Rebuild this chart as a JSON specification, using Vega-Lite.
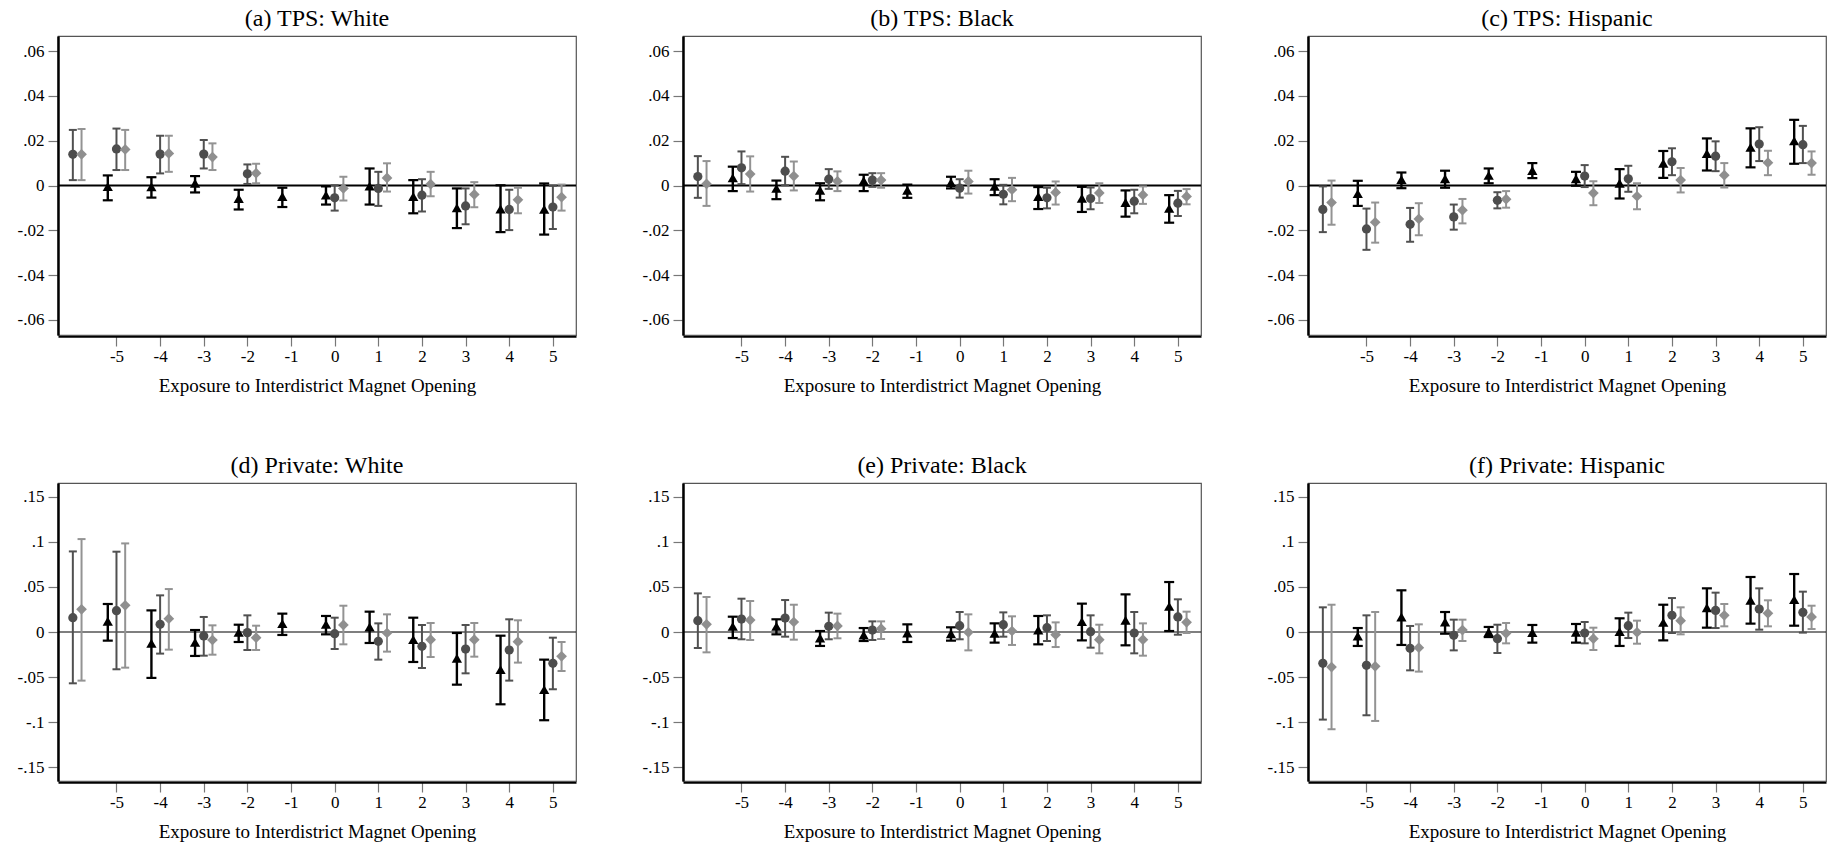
{
  "$schema": "https://vega.github.io/schema/vega-lite/v6.json",
  "background": "white",
  "padding": {"left": 15, "top": 7, "right": 1, "bottom": 1},
  "config": {
    "font": "Liberation Serif",
    "view": {"stroke": "#555", "strokeWidth": 1.2},
    "axis": {"grid": false, "labelFont": "Liberation Serif", "titleFont": "Liberation Serif", "labelColor": "#000", "titleColor": "#000", "titleFontWeight": "normal", "labelFontSize": 17, "titleFontSize": 19, "tickSize": 10, "tickColor": "#777", "tickWidth": 1.2, "labelPadding": 4, "titlePadding": 12, "domainColor": "#000", "domainWidth": 2.5},
    "axisX": {"labelPadding": 2},
    "axisY": {"minExtent": 42, "maxExtent": 42},
    "header": {"labelFont": "Liberation Serif", "labelColor": "#000", "labelFontSize": 24, "labelPadding": 4}
  },
  "data": {"values": [
    {"panel":"(a) TPS: White","group":"TPS","t":-6,"series":"Model 2","est":0.0139,"lo":0.0024,"hi":0.0248},
    {"panel":"(a) TPS: White","group":"TPS","t":-6,"series":"Model 3","est":0.0139,"lo":0.0024,"hi":0.0252},
    {"panel":"(a) TPS: White","group":"TPS","t":-5,"series":"Model 1","est":-0.0005,"lo":-0.0066,"hi":0.0045},
    {"panel":"(a) TPS: White","group":"TPS","t":-5,"series":"Model 2","est":0.0163,"lo":0.0069,"hi":0.0254},
    {"panel":"(a) TPS: White","group":"TPS","t":-5,"series":"Model 3","est":0.0161,"lo":0.0069,"hi":0.0248},
    {"panel":"(a) TPS: White","group":"TPS","t":-4,"series":"Model 1","est":-0.0006,"lo":-0.0054,"hi":0.0037},
    {"panel":"(a) TPS: White","group":"TPS","t":-4,"series":"Model 2","est":0.014,"lo":0.0054,"hi":0.0222},
    {"panel":"(a) TPS: White","group":"TPS","t":-4,"series":"Model 3","est":0.0143,"lo":0.0061,"hi":0.0222},
    {"panel":"(a) TPS: White","group":"TPS","t":-3,"series":"Model 1","est":0.001,"lo":-0.0031,"hi":0.0042},
    {"panel":"(a) TPS: White","group":"TPS","t":-3,"series":"Model 2","est":0.014,"lo":0.0076,"hi":0.0203},
    {"panel":"(a) TPS: White","group":"TPS","t":-3,"series":"Model 3","est":0.0127,"lo":0.0069,"hi":0.0188},
    {"panel":"(a) TPS: White","group":"TPS","t":-2,"series":"Model 1","est":-0.0058,"lo":-0.0107,"hi":-0.0019},
    {"panel":"(a) TPS: White","group":"TPS","t":-2,"series":"Model 2","est":0.0052,"lo":0.0007,"hi":0.0094},
    {"panel":"(a) TPS: White","group":"TPS","t":-2,"series":"Model 3","est":0.0055,"lo":0.001,"hi":0.0097},
    {"panel":"(a) TPS: White","group":"TPS","t":-1,"series":"Model 1","est":-0.0049,"lo":-0.0096,"hi":-0.001},
    {"panel":"(a) TPS: White","group":"TPS","t":0,"series":"Model 1","est":-0.0043,"lo":-0.0085,"hi":-0.0004},
    {"panel":"(a) TPS: White","group":"TPS","t":0,"series":"Model 2","est":-0.0055,"lo":-0.0112,"hi":0.0001},
    {"panel":"(a) TPS: White","group":"TPS","t":0,"series":"Model 3","est":-0.0013,"lo":-0.0067,"hi":0.0039},
    {"panel":"(a) TPS: White","group":"TPS","t":1,"series":"Model 1","est":-0.0003,"lo":-0.0085,"hi":0.0076},
    {"panel":"(a) TPS: White","group":"TPS","t":1,"series":"Model 2","est":-0.0013,"lo":-0.0091,"hi":0.0061},
    {"panel":"(a) TPS: White","group":"TPS","t":1,"series":"Model 3","est":0.0034,"lo":-0.0027,"hi":0.0099},
    {"panel":"(a) TPS: White","group":"TPS","t":2,"series":"Model 1","est":-0.0049,"lo":-0.0124,"hi":0.0024},
    {"panel":"(a) TPS: White","group":"TPS","t":2,"series":"Model 2","est":-0.0043,"lo":-0.0116,"hi":0.0028},
    {"panel":"(a) TPS: White","group":"TPS","t":2,"series":"Model 3","est":0.0006,"lo":-0.0048,"hi":0.0061},
    {"panel":"(a) TPS: White","group":"TPS","t":3,"series":"Model 1","est":-0.01,"lo":-0.019,"hi":-0.0013},
    {"panel":"(a) TPS: White","group":"TPS","t":3,"series":"Model 2","est":-0.0091,"lo":-0.0173,"hi":-0.0013},
    {"panel":"(a) TPS: White","group":"TPS","t":3,"series":"Model 3","est":-0.004,"lo":-0.0097,"hi":0.0015},
    {"panel":"(a) TPS: White","group":"TPS","t":4,"series":"Model 1","est":-0.0105,"lo":-0.0208,"hi":0.0001},
    {"panel":"(a) TPS: White","group":"TPS","t":4,"series":"Model 2","est":-0.0107,"lo":-0.0199,"hi":-0.0019},
    {"panel":"(a) TPS: White","group":"TPS","t":4,"series":"Model 3","est":-0.0064,"lo":-0.0124,"hi":-0.001},
    {"panel":"(a) TPS: White","group":"TPS","t":5,"series":"Model 1","est":-0.0106,"lo":-0.0219,"hi":0.0009},
    {"panel":"(a) TPS: White","group":"TPS","t":5,"series":"Model 2","est":-0.0096,"lo":-0.0194,"hi":-0.0001},
    {"panel":"(a) TPS: White","group":"TPS","t":5,"series":"Model 3","est":-0.0052,"lo":-0.0112,"hi":0.0004},

    {"panel":"(b) TPS: Black","group":"TPS","t":-6,"series":"Model 2","est":0.004,"lo":-0.0055,"hi":0.0131},
    {"panel":"(b) TPS: Black","group":"TPS","t":-6,"series":"Model 3","est":0.0007,"lo":-0.0091,"hi":0.0109},
    {"panel":"(b) TPS: Black","group":"TPS","t":-5,"series":"Model 1","est":0.0034,"lo":-0.0025,"hi":0.0084},
    {"panel":"(b) TPS: Black","group":"TPS","t":-5,"series":"Model 2","est":0.0079,"lo":0.0006,"hi":0.0152},
    {"panel":"(b) TPS: Black","group":"TPS","t":-5,"series":"Model 3","est":0.0051,"lo":-0.0027,"hi":0.013},
    {"panel":"(b) TPS: Black","group":"TPS","t":-4,"series":"Model 1","est":-0.0013,"lo":-0.0061,"hi":0.0022},
    {"panel":"(b) TPS: Black","group":"TPS","t":-4,"series":"Model 2","est":0.0064,"lo":0.0001,"hi":0.0128},
    {"panel":"(b) TPS: Black","group":"TPS","t":-4,"series":"Model 3","est":0.0042,"lo":-0.0022,"hi":0.0107},
    {"panel":"(b) TPS: Black","group":"TPS","t":-3,"series":"Model 1","est":-0.0021,"lo":-0.0066,"hi":0.001},
    {"panel":"(b) TPS: Black","group":"TPS","t":-3,"series":"Model 2","est":0.0028,"lo":-0.0015,"hi":0.0073},
    {"panel":"(b) TPS: Black","group":"TPS","t":-3,"series":"Model 3","est":0.0019,"lo":-0.0025,"hi":0.0063},
    {"panel":"(b) TPS: Black","group":"TPS","t":-2,"series":"Model 1","est":0.0021,"lo":-0.0025,"hi":0.0048},
    {"panel":"(b) TPS: Black","group":"TPS","t":-2,"series":"Model 2","est":0.0024,"lo":-0.0006,"hi":0.0055},
    {"panel":"(b) TPS: Black","group":"TPS","t":-2,"series":"Model 3","est":0.0024,"lo":-0.001,"hi":0.0055},
    {"panel":"(b) TPS: Black","group":"TPS","t":-1,"series":"Model 1","est":-0.0021,"lo":-0.0055,"hi":0.0004},
    {"panel":"(b) TPS: Black","group":"TPS","t":0,"series":"Model 1","est":0.0013,"lo":-0.0013,"hi":0.0039},
    {"panel":"(b) TPS: Black","group":"TPS","t":0,"series":"Model 2","est":-0.0012,"lo":-0.0054,"hi":0.0028},
    {"panel":"(b) TPS: Black","group":"TPS","t":0,"series":"Model 3","est":0.0018,"lo":-0.0036,"hi":0.0066},
    {"panel":"(b) TPS: Black","group":"TPS","t":1,"series":"Model 1","est":-0.0004,"lo":-0.0043,"hi":0.0028},
    {"panel":"(b) TPS: Black","group":"TPS","t":1,"series":"Model 2","est":-0.0039,"lo":-0.0084,"hi":0.0003},
    {"panel":"(b) TPS: Black","group":"TPS","t":1,"series":"Model 3","est":-0.0019,"lo":-0.007,"hi":0.0034},
    {"panel":"(b) TPS: Black","group":"TPS","t":2,"series":"Model 1","est":-0.0049,"lo":-0.0105,"hi":-0.0007},
    {"panel":"(b) TPS: Black","group":"TPS","t":2,"series":"Model 2","est":-0.0055,"lo":-0.0102,"hi":-0.001},
    {"panel":"(b) TPS: Black","group":"TPS","t":2,"series":"Model 3","est":-0.0031,"lo":-0.0085,"hi":0.0018},
    {"panel":"(b) TPS: Black","group":"TPS","t":3,"series":"Model 1","est":-0.0057,"lo":-0.0118,"hi":-0.0006},
    {"panel":"(b) TPS: Black","group":"TPS","t":3,"series":"Model 2","est":-0.0058,"lo":-0.0106,"hi":-0.0009},
    {"panel":"(b) TPS: Black","group":"TPS","t":3,"series":"Model 3","est":-0.0033,"lo":-0.0078,"hi":0.001},
    {"panel":"(b) TPS: Black","group":"TPS","t":4,"series":"Model 1","est":-0.0076,"lo":-0.0139,"hi":-0.0022},
    {"panel":"(b) TPS: Black","group":"TPS","t":4,"series":"Model 2","est":-0.007,"lo":-0.0124,"hi":-0.0019},
    {"panel":"(b) TPS: Black","group":"TPS","t":4,"series":"Model 3","est":-0.0042,"lo":-0.0082,"hi":-0.0004},
    {"panel":"(b) TPS: Black","group":"TPS","t":5,"series":"Model 1","est":-0.0102,"lo":-0.0166,"hi":-0.0043},
    {"panel":"(b) TPS: Black","group":"TPS","t":5,"series":"Model 2","est":-0.0079,"lo":-0.0136,"hi":-0.0024},
    {"panel":"(b) TPS: Black","group":"TPS","t":5,"series":"Model 3","est":-0.0049,"lo":-0.0084,"hi":-0.0016},

    {"panel":"(c) TPS: Hispanic","group":"TPS","t":-6,"series":"Model 2","est":-0.0107,"lo":-0.0208,"hi":-0.0004},
    {"panel":"(c) TPS: Hispanic","group":"TPS","t":-6,"series":"Model 3","est":-0.0076,"lo":-0.0175,"hi":0.0022},
    {"panel":"(c) TPS: Hispanic","group":"TPS","t":-5,"series":"Model 1","est":-0.0036,"lo":-0.0091,"hi":0.0021},
    {"panel":"(c) TPS: Hispanic","group":"TPS","t":-5,"series":"Model 2","est":-0.0194,"lo":-0.0287,"hi":-0.0103},
    {"panel":"(c) TPS: Hispanic","group":"TPS","t":-5,"series":"Model 3","est":-0.0164,"lo":-0.0255,"hi":-0.0076},
    {"panel":"(c) TPS: Hispanic","group":"TPS","t":-4,"series":"Model 1","est":0.0027,"lo":-0.0012,"hi":0.0058},
    {"panel":"(c) TPS: Hispanic","group":"TPS","t":-4,"series":"Model 2","est":-0.0173,"lo":-0.0251,"hi":-0.01},
    {"panel":"(c) TPS: Hispanic","group":"TPS","t":-4,"series":"Model 3","est":-0.0149,"lo":-0.0222,"hi":-0.0079},
    {"panel":"(c) TPS: Hispanic","group":"TPS","t":-3,"series":"Model 1","est":0.003,"lo":-0.001,"hi":0.0066},
    {"panel":"(c) TPS: Hispanic","group":"TPS","t":-3,"series":"Model 2","est":-0.014,"lo":-0.0197,"hi":-0.0085},
    {"panel":"(c) TPS: Hispanic","group":"TPS","t":-3,"series":"Model 3","est":-0.011,"lo":-0.0169,"hi":-0.006},
    {"panel":"(c) TPS: Hispanic","group":"TPS","t":-2,"series":"Model 1","est":0.0045,"lo":0.001,"hi":0.0076},
    {"panel":"(c) TPS: Hispanic","group":"TPS","t":-2,"series":"Model 2","est":-0.0066,"lo":-0.0102,"hi":-0.003},
    {"panel":"(c) TPS: Hispanic","group":"TPS","t":-2,"series":"Model 3","est":-0.0061,"lo":-0.0099,"hi":-0.0025},
    {"panel":"(c) TPS: Hispanic","group":"TPS","t":-1,"series":"Model 1","est":0.0067,"lo":0.0033,"hi":0.01},
    {"panel":"(c) TPS: Hispanic","group":"TPS","t":0,"series":"Model 1","est":0.003,"lo":-0.0001,"hi":0.0061},
    {"panel":"(c) TPS: Hispanic","group":"TPS","t":0,"series":"Model 2","est":0.0042,"lo":-0.0007,"hi":0.0091},
    {"panel":"(c) TPS: Hispanic","group":"TPS","t":0,"series":"Model 3","est":-0.0034,"lo":-0.0088,"hi":0.0019},
    {"panel":"(c) TPS: Hispanic","group":"TPS","t":1,"series":"Model 1","est":0.001,"lo":-0.0058,"hi":0.0073},
    {"panel":"(c) TPS: Hispanic","group":"TPS","t":1,"series":"Model 2","est":0.003,"lo":-0.0028,"hi":0.0088},
    {"panel":"(c) TPS: Hispanic","group":"TPS","t":1,"series":"Model 3","est":-0.0048,"lo":-0.0106,"hi":0.001},
    {"panel":"(c) TPS: Hispanic","group":"TPS","t":2,"series":"Model 1","est":0.0099,"lo":0.0034,"hi":0.0154},
    {"panel":"(c) TPS: Hispanic","group":"TPS","t":2,"series":"Model 2","est":0.0106,"lo":0.0046,"hi":0.0166},
    {"panel":"(c) TPS: Hispanic","group":"TPS","t":2,"series":"Model 3","est":0.0024,"lo":-0.0031,"hi":0.0078},
    {"panel":"(c) TPS: Hispanic","group":"TPS","t":3,"series":"Model 1","est":0.0143,"lo":0.0067,"hi":0.021},
    {"panel":"(c) TPS: Hispanic","group":"TPS","t":3,"series":"Model 2","est":0.0131,"lo":0.0064,"hi":0.0197},
    {"panel":"(c) TPS: Hispanic","group":"TPS","t":3,"series":"Model 3","est":0.0046,"lo":-0.0009,"hi":0.01},
    {"panel":"(c) TPS: Hispanic","group":"TPS","t":4,"series":"Model 1","est":0.017,"lo":0.0081,"hi":0.0255},
    {"panel":"(c) TPS: Hispanic","group":"TPS","t":4,"series":"Model 2","est":0.0185,"lo":0.0109,"hi":0.026},
    {"panel":"(c) TPS: Hispanic","group":"TPS","t":4,"series":"Model 3","est":0.0102,"lo":0.0046,"hi":0.0155},
    {"panel":"(c) TPS: Hispanic","group":"TPS","t":5,"series":"Model 1","est":0.0199,"lo":0.0097,"hi":0.0293},
    {"panel":"(c) TPS: Hispanic","group":"TPS","t":5,"series":"Model 2","est":0.0182,"lo":0.01,"hi":0.0266},
    {"panel":"(c) TPS: Hispanic","group":"TPS","t":5,"series":"Model 3","est":0.01,"lo":0.0048,"hi":0.0152},

    {"panel":"(d) Private: White","group":"Private","t":-6,"series":"Model 2","est":0.0159,"lo":-0.057,"hi":0.0895},
    {"panel":"(d) Private: White","group":"Private","t":-6,"series":"Model 3","est":0.0252,"lo":-0.054,"hi":0.1032},
    {"panel":"(d) Private: White","group":"Private","t":-5,"series":"Model 1","est":0.012,"lo":-0.0096,"hi":0.0311},
    {"panel":"(d) Private: White","group":"Private","t":-5,"series":"Model 2","est":0.0237,"lo":-0.0414,"hi":0.0892},
    {"panel":"(d) Private: White","group":"Private","t":-5,"series":"Model 3","est":0.0296,"lo":-0.0396,"hi":0.0984},
    {"panel":"(d) Private: White","group":"Private","t":-4,"series":"Model 1","est":-0.0125,"lo":-0.051,"hi":0.024},
    {"panel":"(d) Private: White","group":"Private","t":-4,"series":"Model 2","est":0.0085,"lo":-0.024,"hi":0.0407},
    {"panel":"(d) Private: White","group":"Private","t":-4,"series":"Model 3","est":0.0148,"lo":-0.0196,"hi":0.0477},
    {"panel":"(d) Private: White","group":"Private","t":-3,"series":"Model 1","est":-0.0115,"lo":-0.0266,"hi":0.0022},
    {"panel":"(d) Private: White","group":"Private","t":-3,"series":"Model 2","est":-0.0044,"lo":-0.0263,"hi":0.0167},
    {"panel":"(d) Private: White","group":"Private","t":-3,"series":"Model 3","est":-0.0089,"lo":-0.0252,"hi":0.0074},
    {"panel":"(d) Private: White","group":"Private","t":-2,"series":"Model 1","est":-0.0004,"lo":-0.0111,"hi":0.0081},
    {"panel":"(d) Private: White","group":"Private","t":-2,"series":"Model 2","est":-0.0007,"lo":-0.02,"hi":0.0185},
    {"panel":"(d) Private: White","group":"Private","t":-2,"series":"Model 3","est":-0.0063,"lo":-0.02,"hi":0.007},
    {"panel":"(d) Private: White","group":"Private","t":-1,"series":"Model 1","est":0.0093,"lo":-0.0033,"hi":0.0204},
    {"panel":"(d) Private: White","group":"Private","t":0,"series":"Model 1","est":0.0085,"lo":-0.0026,"hi":0.0178},
    {"panel":"(d) Private: White","group":"Private","t":0,"series":"Model 2","est":-0.0019,"lo":-0.0189,"hi":0.0159},
    {"panel":"(d) Private: White","group":"Private","t":0,"series":"Model 3","est":0.0078,"lo":-0.0137,"hi":0.0292},
    {"panel":"(d) Private: White","group":"Private","t":1,"series":"Model 1","est":0.0056,"lo":-0.0122,"hi":0.0226},
    {"panel":"(d) Private: White","group":"Private","t":1,"series":"Model 2","est":-0.0104,"lo":-0.0307,"hi":0.0096},
    {"panel":"(d) Private: White","group":"Private","t":1,"series":"Model 3","est":-0.0011,"lo":-0.0218,"hi":0.0196},
    {"panel":"(d) Private: White","group":"Private","t":2,"series":"Model 1","est":-0.0085,"lo":-0.0333,"hi":0.0159},
    {"panel":"(d) Private: White","group":"Private","t":2,"series":"Model 2","est":-0.0159,"lo":-0.04,"hi":0.0078},
    {"panel":"(d) Private: White","group":"Private","t":2,"series":"Model 3","est":-0.0085,"lo":-0.0278,"hi":0.01},
    {"panel":"(d) Private: White","group":"Private","t":3,"series":"Model 1","est":-0.0292,"lo":-0.0585,"hi":-0.0011},
    {"panel":"(d) Private: White","group":"Private","t":3,"series":"Model 2","est":-0.0189,"lo":-0.0459,"hi":0.0078},
    {"panel":"(d) Private: White","group":"Private","t":3,"series":"Model 3","est":-0.0085,"lo":-0.0274,"hi":0.01},
    {"panel":"(d) Private: White","group":"Private","t":4,"series":"Model 1","est":-0.0418,"lo":-0.0803,"hi":-0.0041},
    {"panel":"(d) Private: White","group":"Private","t":4,"series":"Model 2","est":-0.02,"lo":-0.054,"hi":0.0141},
    {"panel":"(d) Private: White","group":"Private","t":4,"series":"Model 3","est":-0.0107,"lo":-0.034,"hi":0.013},
    {"panel":"(d) Private: White","group":"Private","t":5,"series":"Model 1","est":-0.064,"lo":-0.098,"hi":-0.0307},
    {"panel":"(d) Private: White","group":"Private","t":5,"series":"Model 2","est":-0.0348,"lo":-0.0636,"hi":-0.0063},
    {"panel":"(d) Private: White","group":"Private","t":5,"series":"Model 3","est":-0.027,"lo":-0.0433,"hi":-0.0111},

    {"panel":"(e) Private: Black","group":"Private","t":-6,"series":"Model 2","est":0.0126,"lo":-0.0178,"hi":0.0429},
    {"panel":"(e) Private: Black","group":"Private","t":-6,"series":"Model 3","est":0.0085,"lo":-0.0226,"hi":0.0389},
    {"panel":"(e) Private: Black","group":"Private","t":-5,"series":"Model 1","est":0.0063,"lo":-0.0067,"hi":0.017},
    {"panel":"(e) Private: Black","group":"Private","t":-5,"series":"Model 2","est":0.0144,"lo":-0.0081,"hi":0.037},
    {"panel":"(e) Private: Black","group":"Private","t":-5,"series":"Model 3","est":0.0133,"lo":-0.0089,"hi":0.0344},
    {"panel":"(e) Private: Black","group":"Private","t":-4,"series":"Model 1","est":0.0063,"lo":-0.0026,"hi":0.0141},
    {"panel":"(e) Private: Black","group":"Private","t":-4,"series":"Model 2","est":0.0155,"lo":-0.0052,"hi":0.0355},
    {"panel":"(e) Private: Black","group":"Private","t":-4,"series":"Model 3","est":0.0111,"lo":-0.0085,"hi":0.0303},
    {"panel":"(e) Private: Black","group":"Private","t":-3,"series":"Model 1","est":-0.0067,"lo":-0.0155,"hi":0.0011},
    {"panel":"(e) Private: Black","group":"Private","t":-3,"series":"Model 2","est":0.0063,"lo":-0.0081,"hi":0.0215},
    {"panel":"(e) Private: Black","group":"Private","t":-3,"series":"Model 3","est":0.0067,"lo":-0.007,"hi":0.0204},
    {"panel":"(e) Private: Black","group":"Private","t":-2,"series":"Model 1","est":-0.0033,"lo":-0.01,"hi":0.0044},
    {"panel":"(e) Private: Black","group":"Private","t":-2,"series":"Model 2","est":0.0022,"lo":-0.0089,"hi":0.0118},
    {"panel":"(e) Private: Black","group":"Private","t":-2,"series":"Model 3","est":0.0037,"lo":-0.0078,"hi":0.0118},
    {"panel":"(e) Private: Black","group":"Private","t":-1,"series":"Model 1","est":-0.0011,"lo":-0.0111,"hi":0.0085},
    {"panel":"(e) Private: Black","group":"Private","t":0,"series":"Model 1","est":-0.0019,"lo":-0.0096,"hi":0.0052},
    {"panel":"(e) Private: Black","group":"Private","t":0,"series":"Model 2","est":0.007,"lo":-0.0081,"hi":0.0222},
    {"panel":"(e) Private: Black","group":"Private","t":0,"series":"Model 3","est":-0.0004,"lo":-0.0204,"hi":0.0196},
    {"panel":"(e) Private: Black","group":"Private","t":1,"series":"Model 1","est":-0.0015,"lo":-0.0118,"hi":0.0096},
    {"panel":"(e) Private: Black","group":"Private","t":1,"series":"Model 2","est":0.0081,"lo":-0.0052,"hi":0.0218},
    {"panel":"(e) Private: Black","group":"Private","t":1,"series":"Model 3","est":0.0011,"lo":-0.0144,"hi":0.0174},
    {"panel":"(e) Private: Black","group":"Private","t":2,"series":"Model 1","est":0.0022,"lo":-0.0137,"hi":0.0178},
    {"panel":"(e) Private: Black","group":"Private","t":2,"series":"Model 2","est":0.0048,"lo":-0.01,"hi":0.0185},
    {"panel":"(e) Private: Black","group":"Private","t":2,"series":"Model 3","est":-0.003,"lo":-0.0167,"hi":0.0107},
    {"panel":"(e) Private: Black","group":"Private","t":3,"series":"Model 1","est":0.0115,"lo":-0.0093,"hi":0.0315},
    {"panel":"(e) Private: Black","group":"Private","t":3,"series":"Model 2","est":0.0004,"lo":-0.0174,"hi":0.0185},
    {"panel":"(e) Private: Black","group":"Private","t":3,"series":"Model 3","est":-0.0085,"lo":-0.0237,"hi":0.0081},
    {"panel":"(e) Private: Black","group":"Private","t":4,"series":"Model 1","est":0.013,"lo":-0.0148,"hi":0.0418},
    {"panel":"(e) Private: Black","group":"Private","t":4,"series":"Model 2","est":-0.0011,"lo":-0.0237,"hi":0.0222},
    {"panel":"(e) Private: Black","group":"Private","t":4,"series":"Model 3","est":-0.0085,"lo":-0.0263,"hi":0.0096},
    {"panel":"(e) Private: Black","group":"Private","t":5,"series":"Model 1","est":0.0285,"lo":0.0011,"hi":0.0555},
    {"panel":"(e) Private: Black","group":"Private","t":5,"series":"Model 2","est":0.0167,"lo":-0.003,"hi":0.0363},
    {"panel":"(e) Private: Black","group":"Private","t":5,"series":"Model 3","est":0.0107,"lo":-0.0011,"hi":0.0226},

    {"panel":"(f) Private: Hispanic","group":"Private","t":-6,"series":"Model 2","est":-0.0348,"lo":-0.0973,"hi":0.0274},
    {"panel":"(f) Private: Hispanic","group":"Private","t":-6,"series":"Model 3","est":-0.0389,"lo":-0.108,"hi":0.0303},
    {"panel":"(f) Private: Hispanic","group":"Private","t":-5,"series":"Model 1","est":-0.0044,"lo":-0.0155,"hi":0.0044},
    {"panel":"(f) Private: Hispanic","group":"Private","t":-5,"series":"Model 2","est":-0.037,"lo":-0.0925,"hi":0.0185},
    {"panel":"(f) Private: Hispanic","group":"Private","t":-5,"series":"Model 3","est":-0.0381,"lo":-0.0988,"hi":0.0222},
    {"panel":"(f) Private: Hispanic","group":"Private","t":-4,"series":"Model 1","est":0.0167,"lo":-0.0144,"hi":0.0463},
    {"panel":"(f) Private: Hispanic","group":"Private","t":-4,"series":"Model 2","est":-0.0181,"lo":-0.0426,"hi":0.0067},
    {"panel":"(f) Private: Hispanic","group":"Private","t":-4,"series":"Model 3","est":-0.0174,"lo":-0.044,"hi":0.0085},
    {"panel":"(f) Private: Hispanic","group":"Private","t":-3,"series":"Model 1","est":0.0111,"lo":-0.0019,"hi":0.0222},
    {"panel":"(f) Private: Hispanic","group":"Private","t":-3,"series":"Model 2","est":-0.0037,"lo":-0.0204,"hi":0.0137},
    {"panel":"(f) Private: Hispanic","group":"Private","t":-3,"series":"Model 3","est":0.0022,"lo":-0.01,"hi":0.0137},
    {"panel":"(f) Private: Hispanic","group":"Private","t":-2,"series":"Model 1","est":0.0,"lo":-0.0056,"hi":0.0056},
    {"panel":"(f) Private: Hispanic","group":"Private","t":-2,"series":"Model 2","est":-0.0074,"lo":-0.0233,"hi":0.0081},
    {"panel":"(f) Private: Hispanic","group":"Private","t":-2,"series":"Model 3","est":-0.0015,"lo":-0.0126,"hi":0.01},
    {"panel":"(f) Private: Hispanic","group":"Private","t":-1,"series":"Model 1","est":-0.0007,"lo":-0.0118,"hi":0.0078},
    {"panel":"(f) Private: Hispanic","group":"Private","t":0,"series":"Model 1","est":-0.0004,"lo":-0.0118,"hi":0.0089},
    {"panel":"(f) Private: Hispanic","group":"Private","t":0,"series":"Model 2","est":-0.0011,"lo":-0.0126,"hi":0.0111},
    {"panel":"(f) Private: Hispanic","group":"Private","t":0,"series":"Model 3","est":-0.0074,"lo":-0.02,"hi":0.0048},
    {"panel":"(f) Private: Hispanic","group":"Private","t":1,"series":"Model 1","est":0.0004,"lo":-0.0155,"hi":0.0152},
    {"panel":"(f) Private: Hispanic","group":"Private","t":1,"series":"Model 2","est":0.007,"lo":-0.0067,"hi":0.0215},
    {"panel":"(f) Private: Hispanic","group":"Private","t":1,"series":"Model 3","est":-0.0004,"lo":-0.013,"hi":0.0126},
    {"panel":"(f) Private: Hispanic","group":"Private","t":2,"series":"Model 1","est":0.0107,"lo":-0.0093,"hi":0.0303},
    {"panel":"(f) Private: Hispanic","group":"Private","t":2,"series":"Model 2","est":0.0185,"lo":-0.0011,"hi":0.0377},
    {"panel":"(f) Private: Hispanic","group":"Private","t":2,"series":"Model 3","est":0.0126,"lo":-0.0026,"hi":0.0274},
    {"panel":"(f) Private: Hispanic","group":"Private","t":3,"series":"Model 1","est":0.027,"lo":0.0048,"hi":0.0485},
    {"panel":"(f) Private: Hispanic","group":"Private","t":3,"series":"Model 2","est":0.024,"lo":0.0044,"hi":0.0437},
    {"panel":"(f) Private: Hispanic","group":"Private","t":3,"series":"Model 3","est":0.0185,"lo":0.0063,"hi":0.0311},
    {"panel":"(f) Private: Hispanic","group":"Private","t":4,"series":"Model 1","est":0.0352,"lo":0.0093,"hi":0.0611},
    {"panel":"(f) Private: Hispanic","group":"Private","t":4,"series":"Model 2","est":0.0255,"lo":0.0026,"hi":0.0485},
    {"panel":"(f) Private: Hispanic","group":"Private","t":4,"series":"Model 3","est":0.0207,"lo":0.0063,"hi":0.0352},
    {"panel":"(f) Private: Hispanic","group":"Private","t":5,"series":"Model 1","est":0.0359,"lo":0.007,"hi":0.0644},
    {"panel":"(f) Private: Hispanic","group":"Private","t":5,"series":"Model 2","est":0.0218,"lo":-0.0007,"hi":0.0448},
    {"panel":"(f) Private: Hispanic","group":"Private","t":5,"series":"Model 3","est":0.0167,"lo":0.0033,"hi":0.0292}
  ]},
  "spacing": 59,
  "vconcat": [
    {
      "transform": [{"filter": "datum.group === 'TPS'"}],
      "facet": {"column": {"field": "panel", "type": "nominal", "header": {"title": null}}},
      "spacing": {"column": 62},
      "resolve": {"axis": {"y": "independent"}},
      "spec": {
        "width": 518, "height": 299,
        "encoding": {
          "x": {"field": "t", "type": "quantitative", "scale": {"domain": [-6.34, 5.53], "nice": false, "zero": false}, "axis": {"title": "Exposure to Interdistrict Magnet Opening", "values": [-5, -4, -3, -2, -1, 0, 1, 2, 3, 4, 5], "labelExpr": "'' + datum.value"}}
        },
        "layer": [
          {
            "transform": [{"aggregate": [{"op": "count", "as": "n"}], "groupby": ["panel"]}],
            "mark": {"type": "rule", "color": "#000", "strokeWidth": 1.8},
            "encoding": {
              "x": null,
              "y": {"datum": 0, "type": "quantitative", "scale": {"domain": [-0.0667, 0.0667], "nice": false, "zero": false}, "axis": {"title": null, "values": [-0.06, -0.04, -0.02, 0, 0.02, 0.04, 0.06], "labelExpr": "replace('' + datum.value, '0.', '.')"}}
            }
          },
          {
            "transform": [{"aggregate": [{"op": "count", "as": "n"}], "groupby": ["panel"]}],
            "mark": {"type": "rule", "color": "#2a2a2a", "strokeWidth": 1.4},
            "encoding": {
              "x": {"datum": -0.5, "type": "quantitative", "scale": {"domain": [-6.34, 5.53], "nice": false, "zero": false}, "axis": {"title": "Exposure to Interdistrict Magnet Opening", "values": [-5, -4, -3, -2, -1, 0, 1, 2, 3, 4, 5], "labelExpr": "'' + datum.value"}}
            }
          },
          {
            "transform": [{"filter": "datum.series === 'Model 1'"}],
            "layer": [
              {"mark": {"type": "rule", "color": "#000", "strokeWidth": 2.4, "xOffset": -8.7},
               "encoding": {"y": {"field": "lo", "type": "quantitative", "scale": {"domain": [-0.0667, 0.0667], "nice": false, "zero": false}, "axis": {"title": null, "values": [-0.06, -0.04, -0.02, 0, 0.02, 0.04, 0.06], "labelExpr": "replace('' + datum.value, '0.', '.')"}}, "y2": {"field": "hi"}}},
              {"mark": {"type": "tick", "color": "#000", "orient": "horizontal", "thickness": 2.2, "size": 10, "xOffset": -8.7, "opacity": 1},
               "encoding": {"y": {"field": "lo", "type": "quantitative", "scale": {"domain": [-0.0667, 0.0667], "nice": false, "zero": false}, "axis": {"title": null, "values": [-0.06, -0.04, -0.02, 0, 0.02, 0.04, 0.06], "labelExpr": "replace('' + datum.value, '0.', '.')"}}}},
              {"mark": {"type": "tick", "color": "#000", "orient": "horizontal", "thickness": 2.2, "size": 10, "xOffset": -8.7, "opacity": 1},
               "encoding": {"y": {"field": "hi", "type": "quantitative", "scale": {"domain": [-0.0667, 0.0667], "nice": false, "zero": false}, "axis": {"title": null, "values": [-0.06, -0.04, -0.02, 0, 0.02, 0.04, 0.06], "labelExpr": "replace('' + datum.value, '0.', '.')"}}}},
              {"mark": {"type": "point", "shape": "triangle-up", "filled": true, "size": 105, "color": "#000", "opacity": 1, "xOffset": -8.7},
               "encoding": {"y": {"field": "est", "type": "quantitative", "scale": {"domain": [-0.0667, 0.0667], "nice": false, "zero": false}, "axis": {"title": null, "values": [-0.06, -0.04, -0.02, 0, 0.02, 0.04, 0.06], "labelExpr": "replace('' + datum.value, '0.', '.')"}}}}
            ]
          },
          {
            "transform": [{"filter": "datum.series === 'Model 2'"}],
            "layer": [
              {"mark": {"type": "rule", "color": "#505050", "strokeWidth": 2},
               "encoding": {"y": {"field": "lo", "type": "quantitative", "scale": {"domain": [-0.0667, 0.0667], "nice": false, "zero": false}, "axis": {"title": null, "values": [-0.06, -0.04, -0.02, 0, 0.02, 0.04, 0.06], "labelExpr": "replace('' + datum.value, '0.', '.')"}}, "y2": {"field": "hi"}}},
              {"mark": {"type": "tick", "color": "#505050", "orient": "horizontal", "thickness": 2, "size": 8, "opacity": 1},
               "encoding": {"y": {"field": "lo", "type": "quantitative", "scale": {"domain": [-0.0667, 0.0667], "nice": false, "zero": false}, "axis": {"title": null, "values": [-0.06, -0.04, -0.02, 0, 0.02, 0.04, 0.06], "labelExpr": "replace('' + datum.value, '0.', '.')"}}}},
              {"mark": {"type": "tick", "color": "#505050", "orient": "horizontal", "thickness": 2, "size": 8, "opacity": 1},
               "encoding": {"y": {"field": "hi", "type": "quantitative", "scale": {"domain": [-0.0667, 0.0667], "nice": false, "zero": false}, "axis": {"title": null, "values": [-0.06, -0.04, -0.02, 0, 0.02, 0.04, 0.06], "labelExpr": "replace('' + datum.value, '0.', '.')"}}}},
              {"mark": {"type": "point", "shape": "circle", "filled": true, "size": 85, "color": "#4d4d4d", "opacity": 1},
               "encoding": {"y": {"field": "est", "type": "quantitative", "scale": {"domain": [-0.0667, 0.0667], "nice": false, "zero": false}, "axis": {"title": null, "values": [-0.06, -0.04, -0.02, 0, 0.02, 0.04, 0.06], "labelExpr": "replace('' + datum.value, '0.', '.')"}}}}
            ]
          },
          {
            "transform": [{"filter": "datum.series === 'Model 3'"}],
            "layer": [
              {"mark": {"type": "rule", "color": "#939393", "strokeWidth": 2, "xOffset": 8.7},
               "encoding": {"y": {"field": "lo", "type": "quantitative", "scale": {"domain": [-0.0667, 0.0667], "nice": false, "zero": false}, "axis": {"title": null, "values": [-0.06, -0.04, -0.02, 0, 0.02, 0.04, 0.06], "labelExpr": "replace('' + datum.value, '0.', '.')"}}, "y2": {"field": "hi"}}},
              {"mark": {"type": "tick", "color": "#939393", "orient": "horizontal", "thickness": 2, "size": 8, "xOffset": 8.7, "opacity": 1},
               "encoding": {"y": {"field": "lo", "type": "quantitative", "scale": {"domain": [-0.0667, 0.0667], "nice": false, "zero": false}, "axis": {"title": null, "values": [-0.06, -0.04, -0.02, 0, 0.02, 0.04, 0.06], "labelExpr": "replace('' + datum.value, '0.', '.')"}}}},
              {"mark": {"type": "tick", "color": "#939393", "orient": "horizontal", "thickness": 2, "size": 8, "xOffset": 8.7, "opacity": 1},
               "encoding": {"y": {"field": "hi", "type": "quantitative", "scale": {"domain": [-0.0667, 0.0667], "nice": false, "zero": false}, "axis": {"title": null, "values": [-0.06, -0.04, -0.02, 0, 0.02, 0.04, 0.06], "labelExpr": "replace('' + datum.value, '0.', '.')"}}}},
              {"mark": {"type": "point", "shape": "diamond", "filled": true, "size": 115, "color": "#8f8f8f", "opacity": 1, "xOffset": 8.7},
               "encoding": {"y": {"field": "est", "type": "quantitative", "scale": {"domain": [-0.0667, 0.0667], "nice": false, "zero": false}, "axis": {"title": null, "values": [-0.06, -0.04, -0.02, 0, 0.02, 0.04, 0.06], "labelExpr": "replace('' + datum.value, '0.', '.')"}}}}
            ]
          }
        ]
      }
    },
    {
      "transform": [{"filter": "datum.group === 'Private'"}],
      "facet": {"column": {"field": "panel", "type": "nominal", "header": {"title": null}}},
      "spacing": {"column": 62},
      "resolve": {"axis": {"y": "independent"}},
      "spec": {
        "width": 518, "height": 298,
        "encoding": {
          "x": {"field": "t", "type": "quantitative", "scale": {"domain": [-6.34, 5.53], "nice": false, "zero": false}, "axis": {"title": "Exposure to Interdistrict Magnet Opening", "values": [-5, -4, -3, -2, -1, 0, 1, 2, 3, 4, 5], "labelExpr": "'' + datum.value"}}
        },
        "layer": [
          {
            "transform": [{"aggregate": [{"op": "count", "as": "n"}], "groupby": ["panel"]}],
            "mark": {"type": "rule", "color": "#000", "strokeWidth": 1.2},
            "encoding": {
              "x": null,
              "y": {"datum": 0, "type": "quantitative", "scale": {"domain": [-0.1655, 0.1655], "nice": false, "zero": false}, "axis": {"title": null, "values": [-0.15, -0.1, -0.05, 0, 0.05, 0.1, 0.15], "labelExpr": "replace('' + datum.value, '0.', '.')"}}
            }
          },
          {
            "transform": [{"aggregate": [{"op": "count", "as": "n"}], "groupby": ["panel"]}],
            "mark": {"type": "rule", "color": "#2a2a2a", "strokeWidth": 1.4},
            "encoding": {
              "x": {"datum": -0.5, "type": "quantitative", "scale": {"domain": [-6.34, 5.53], "nice": false, "zero": false}, "axis": {"title": "Exposure to Interdistrict Magnet Opening", "values": [-5, -4, -3, -2, -1, 0, 1, 2, 3, 4, 5], "labelExpr": "'' + datum.value"}}
            }
          },
          {
            "transform": [{"filter": "datum.series === 'Model 1'"}],
            "layer": [
              {"mark": {"type": "rule", "color": "#000", "strokeWidth": 2.4, "xOffset": -8.7},
               "encoding": {"y": {"field": "lo", "type": "quantitative", "scale": {"domain": [-0.1655, 0.1655], "nice": false, "zero": false}, "axis": {"title": null, "values": [-0.15, -0.1, -0.05, 0, 0.05, 0.1, 0.15], "labelExpr": "replace('' + datum.value, '0.', '.')"}}, "y2": {"field": "hi"}}},
              {"mark": {"type": "tick", "color": "#000", "orient": "horizontal", "thickness": 2.2, "size": 10, "xOffset": -8.7, "opacity": 1},
               "encoding": {"y": {"field": "lo", "type": "quantitative", "scale": {"domain": [-0.1655, 0.1655], "nice": false, "zero": false}, "axis": {"title": null, "values": [-0.15, -0.1, -0.05, 0, 0.05, 0.1, 0.15], "labelExpr": "replace('' + datum.value, '0.', '.')"}}}},
              {"mark": {"type": "tick", "color": "#000", "orient": "horizontal", "thickness": 2.2, "size": 10, "xOffset": -8.7, "opacity": 1},
               "encoding": {"y": {"field": "hi", "type": "quantitative", "scale": {"domain": [-0.1655, 0.1655], "nice": false, "zero": false}, "axis": {"title": null, "values": [-0.15, -0.1, -0.05, 0, 0.05, 0.1, 0.15], "labelExpr": "replace('' + datum.value, '0.', '.')"}}}},
              {"mark": {"type": "point", "shape": "triangle-up", "filled": true, "size": 105, "color": "#000", "opacity": 1, "xOffset": -8.7},
               "encoding": {"y": {"field": "est", "type": "quantitative", "scale": {"domain": [-0.1655, 0.1655], "nice": false, "zero": false}, "axis": {"title": null, "values": [-0.15, -0.1, -0.05, 0, 0.05, 0.1, 0.15], "labelExpr": "replace('' + datum.value, '0.', '.')"}}}}
            ]
          },
          {
            "transform": [{"filter": "datum.series === 'Model 2'"}],
            "layer": [
              {"mark": {"type": "rule", "color": "#505050", "strokeWidth": 2},
               "encoding": {"y": {"field": "lo", "type": "quantitative", "scale": {"domain": [-0.1655, 0.1655], "nice": false, "zero": false}, "axis": {"title": null, "values": [-0.15, -0.1, -0.05, 0, 0.05, 0.1, 0.15], "labelExpr": "replace('' + datum.value, '0.', '.')"}}, "y2": {"field": "hi"}}},
              {"mark": {"type": "tick", "color": "#505050", "orient": "horizontal", "thickness": 2, "size": 8, "opacity": 1},
               "encoding": {"y": {"field": "lo", "type": "quantitative", "scale": {"domain": [-0.1655, 0.1655], "nice": false, "zero": false}, "axis": {"title": null, "values": [-0.15, -0.1, -0.05, 0, 0.05, 0.1, 0.15], "labelExpr": "replace('' + datum.value, '0.', '.')"}}}},
              {"mark": {"type": "tick", "color": "#505050", "orient": "horizontal", "thickness": 2, "size": 8, "opacity": 1},
               "encoding": {"y": {"field": "hi", "type": "quantitative", "scale": {"domain": [-0.1655, 0.1655], "nice": false, "zero": false}, "axis": {"title": null, "values": [-0.15, -0.1, -0.05, 0, 0.05, 0.1, 0.15], "labelExpr": "replace('' + datum.value, '0.', '.')"}}}},
              {"mark": {"type": "point", "shape": "circle", "filled": true, "size": 85, "color": "#4d4d4d", "opacity": 1},
               "encoding": {"y": {"field": "est", "type": "quantitative", "scale": {"domain": [-0.1655, 0.1655], "nice": false, "zero": false}, "axis": {"title": null, "values": [-0.15, -0.1, -0.05, 0, 0.05, 0.1, 0.15], "labelExpr": "replace('' + datum.value, '0.', '.')"}}}}
            ]
          },
          {
            "transform": [{"filter": "datum.series === 'Model 3'"}],
            "layer": [
              {"mark": {"type": "rule", "color": "#939393", "strokeWidth": 2, "xOffset": 8.7},
               "encoding": {"y": {"field": "lo", "type": "quantitative", "scale": {"domain": [-0.1655, 0.1655], "nice": false, "zero": false}, "axis": {"title": null, "values": [-0.15, -0.1, -0.05, 0, 0.05, 0.1, 0.15], "labelExpr": "replace('' + datum.value, '0.', '.')"}}, "y2": {"field": "hi"}}},
              {"mark": {"type": "tick", "color": "#939393", "orient": "horizontal", "thickness": 2, "size": 8, "xOffset": 8.7, "opacity": 1},
               "encoding": {"y": {"field": "lo", "type": "quantitative", "scale": {"domain": [-0.1655, 0.1655], "nice": false, "zero": false}, "axis": {"title": null, "values": [-0.15, -0.1, -0.05, 0, 0.05, 0.1, 0.15], "labelExpr": "replace('' + datum.value, '0.', '.')"}}}},
              {"mark": {"type": "tick", "color": "#939393", "orient": "horizontal", "thickness": 2, "size": 8, "xOffset": 8.7, "opacity": 1},
               "encoding": {"y": {"field": "hi", "type": "quantitative", "scale": {"domain": [-0.1655, 0.1655], "nice": false, "zero": false}, "axis": {"title": null, "values": [-0.15, -0.1, -0.05, 0, 0.05, 0.1, 0.15], "labelExpr": "replace('' + datum.value, '0.', '.')"}}}},
              {"mark": {"type": "point", "shape": "diamond", "filled": true, "size": 115, "color": "#8f8f8f", "opacity": 1, "xOffset": 8.7},
               "encoding": {"y": {"field": "est", "type": "quantitative", "scale": {"domain": [-0.1655, 0.1655], "nice": false, "zero": false}, "axis": {"title": null, "values": [-0.15, -0.1, -0.05, 0, 0.05, 0.1, 0.15], "labelExpr": "replace('' + datum.value, '0.', '.')"}}}}
            ]
          }
        ]
      }
    }
  ]
}
